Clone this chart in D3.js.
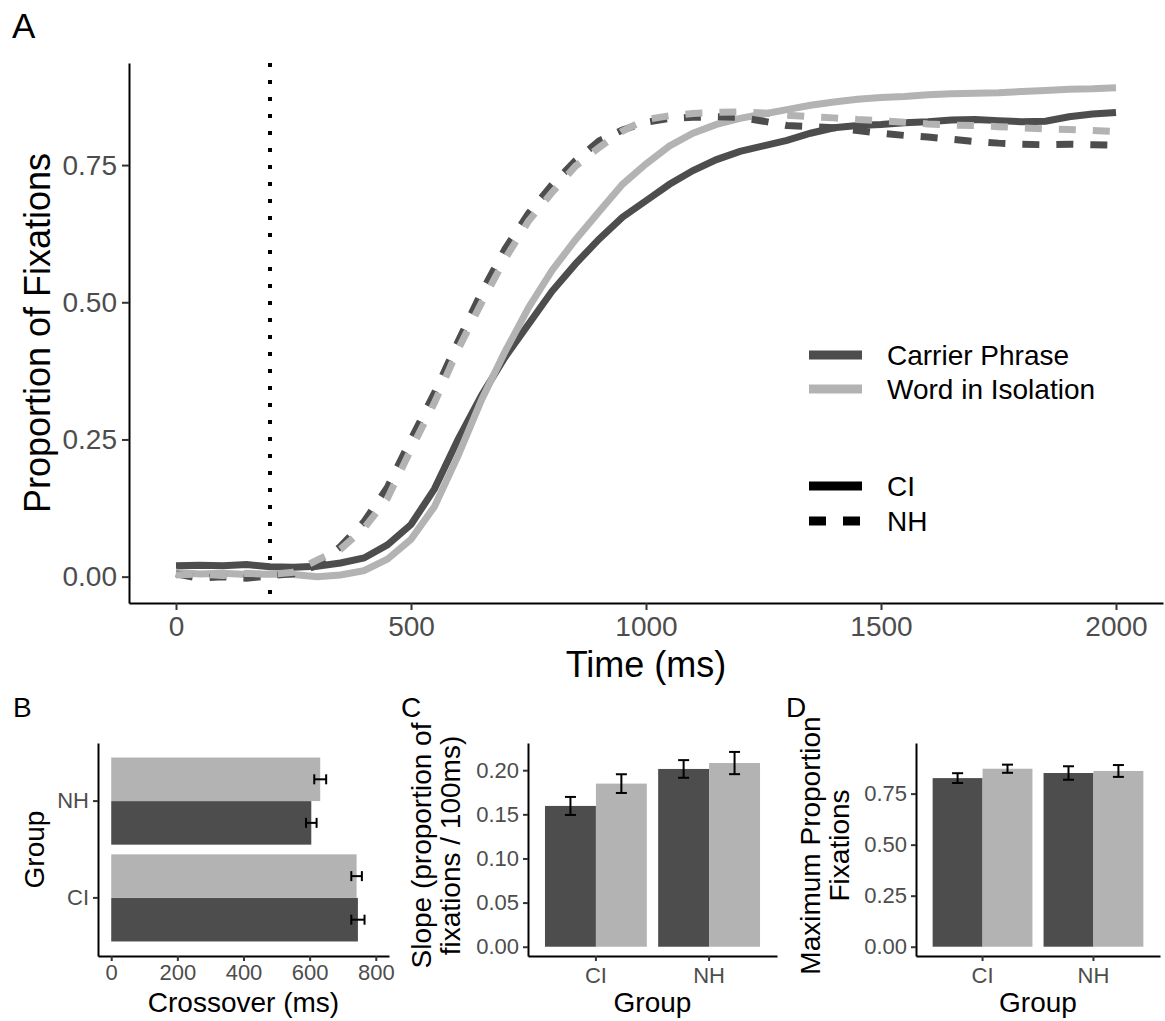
<!DOCTYPE html>
<html>
<head>
<meta charset="utf-8">
<script src="https://cdn.jsdelivr.net/npm/d3@7"></script>
<style>
  body { margin: 0; background: #fff; }
  text { font-family: "Liberation Sans", Arial, sans-serif; }
</style>
</head>
<body>
<svg id="chart"></svg>
<script>
// ---- data ----
const timeMs = [0, 50, 100, 150, 200, 250, 300, 350, 400, 450, 500, 550, 600, 650, 700, 750, 800, 850, 900, 950,
    1000, 1050, 1100, 1150, 1200, 1250, 1300, 1350, 1400, 1450, 1500, 1550, 1600, 1650, 1700, 1750, 1800, 1850, 1900, 1950, 2000];

const ciCarrier = [0.020, 0.021, 0.020, 0.022, 0.018, 0.017, 0.019, 0.025, 0.034, 0.058, 0.095, 0.160, 0.250, 0.330, 0.400, 0.460, 0.520, 0.570, 0.615, 0.655,
    0.685, 0.715, 0.740, 0.760, 0.775, 0.785, 0.795, 0.808, 0.818, 0.822, 0.824, 0.827, 0.829, 0.832, 0.833, 0.831, 0.829, 0.830, 0.838, 0.843, 0.846];
const ciWord = [0.008, 0.005, 0.006, 0.004, 0.005, 0.004, 0.000, 0.003, 0.011, 0.032, 0.068, 0.128, 0.220, 0.322, 0.410, 0.490, 0.558, 0.614, 0.665, 0.715,
    0.752, 0.785, 0.808, 0.824, 0.835, 0.843, 0.851, 0.859, 0.865, 0.870, 0.873, 0.875, 0.878, 0.880, 0.881, 0.882, 0.884, 0.886, 0.888, 0.889, 0.891];
const nhCarrier = [0.005, -0.003, 0.000, -0.003, 0.002, 0.005, 0.020, 0.055, 0.100, 0.163, 0.250, 0.335, 0.428, 0.518, 0.597, 0.662, 0.714, 0.758, 0.794, 0.814,
    0.828, 0.835, 0.837, 0.838, 0.837, 0.830, 0.822, 0.820, 0.818, 0.813, 0.808, 0.804, 0.801, 0.797, 0.793, 0.790, 0.788, 0.787, 0.788, 0.787, 0.786];
const nhWord = [0.003, 0.005, 0.002, 0.006, 0.004, 0.008, 0.030, 0.050, 0.088, 0.143, 0.232, 0.317, 0.414, 0.499, 0.579, 0.648, 0.700, 0.748, 0.782, 0.812,
    0.833, 0.840, 0.844, 0.846, 0.847, 0.845, 0.841, 0.838, 0.836, 0.833, 0.831, 0.828, 0.825, 0.823, 0.822, 0.820, 0.818, 0.816, 0.815, 0.813, 0.811];

const onsetMs = 200;

const groups = ["CI", "NH"];
const conditions = ["Carrier Phrase", "Word in Isolation"];

// per group: [carrier, word]
const crossoverMean = { CI: [746, 742], NH: [605, 632] };
const crossoverErr = { CI: [20, 16], NH: [16, 18] };
const slopeMean = { CI: [0.1595, 0.1848], NH: [0.2014, 0.2081] };
const slopeErr = { CI: [0.0102, 0.0106], NH: [0.0100, 0.0126] };
const maxMean = { CI: [0.826, 0.872], NH: [0.851, 0.861] };
const maxErr = { CI: [0.024, 0.020], NH: [0.033, 0.029] };

const timeTicks = [0, 500, 1000, 1500, 2000];
const propTicks = [0, 0.25, 0.5, 0.75];
const crossTicks = [0, 200, 400, 600, 800];
const slopeTicks = [0, 0.05, 0.10, 0.15, 0.20];

const DARK = "#4d4d4d";
const LIGHT = "#b3b3b3";
const condColor = { "Carrier Phrase": DARK, "Word in Isolation": LIGHT };

const width = 1165;
const height = 1021;

const svg = d3.select("#chart").attr("width", width).attr("height", height);

function panelLabel(txt, x, y, size) {
    svg.append("text").attr("x", x).attr("y", y).text(txt)
        .attr("font-size", size).attr("fill", "#000");
}

function styleAxis(ax, fontSize) {
    ax.select(".domain").attr("stroke", "#000").attr("stroke-width", 2);
    ax.selectAll(".tick line").attr("stroke", "#333").attr("stroke-width", 2);
    ax.selectAll(".tick text").attr("fill", "#4d4d4d").attr("font-size", fontSize)
        .attr("font-family", "Liberation Sans, Arial, sans-serif");
}

// ================= Panel A =================
const aLeft = 129, aRight = 1163, aTop = 63, aBottom = 603;
const xA = d3.scaleLinear().domain([-100, 2100]).range([aLeft, aRight]);
const yA = d3.scaleLinear().domain([-0.048, 0.936]).range([aBottom, aTop]);

const gA = svg.append("g");

// onset dotted line
gA.append("line")
    .attr("x1", xA(onsetMs)).attr("x2", xA(onsetMs))
    .attr("y1", aTop).attr("y2", aBottom)
    .attr("stroke", "#000").attr("stroke-width", 4)
    .attr("stroke-dasharray", "4,13");

const series = [
    { values: ciCarrier, color: DARK, dash: null },
    { values: ciWord, color: LIGHT, dash: null },
    { values: nhCarrier, color: DARK, dash: "17,17" },
    { values: nhWord, color: LIGHT, dash: "17,17" }
];

const line = d3.line()
    .x(function (d, i) { return xA(timeMs[i]); })
    .y(function (d) { return yA(d); });

gA.selectAll("path.curve")
    .data(series)
    .enter()
    .append("path")
    .attr("class", "curve")
    .attr("fill", "none")
    .attr("stroke", function (d) { return d.color; })
    .attr("stroke-width", 7)
    .attr("stroke-dasharray", function (d) { return d.dash; })
    .attr("d", function (d) { return line(d.values); });

// axes A
const axAx = gA.append("g").attr("transform", "translate(0," + aBottom + ")")
    .call(d3.axisBottom(xA).tickValues(timeTicks).tickFormat(d3.format("d"))
        .tickSize(7).tickSizeOuter(0).tickPadding(6));
const axAy = gA.append("g").attr("transform", "translate(" + aLeft + ",0)")
    .call(d3.axisLeft(yA).tickValues(propTicks).tickFormat(d3.format(".2f"))
        .tickSize(7).tickSizeOuter(0).tickPadding(5));
styleAxis(axAx, 28);
styleAxis(axAy, 28);

gA.append("text")
    .attr("x", (aLeft + aRight) / 2).attr("y", 677)
    .attr("text-anchor", "middle").attr("font-size", 36).text("Time (ms)");
gA.append("text")
    .attr("transform", "translate(50," + (aTop + aBottom) / 2 + ") rotate(-90)")
    .attr("text-anchor", "middle").attr("font-size", 36).text("Proportion of Fixations");

// legends
const legX1 = 809, legX2 = 862, legTextX = 887;
const legend = gA.append("g");
conditions.forEach(function (c, i) {
    const y = 355 + i * 34;
    legend.append("line").attr("x1", legX1).attr("x2", legX2).attr("y1", y).attr("y2", y)
        .attr("stroke", condColor[c]).attr("stroke-width", 9);
    legend.append("text").attr("x", legTextX).attr("y", y).attr("dy", "0.35em")
        .attr("font-size", 28).text(c);
});
groups.forEach(function (g, i) {
    const y = 486 + i * 35;
    legend.append("line").attr("x1", legX1).attr("x2", legX2).attr("y1", y).attr("y2", y)
        .attr("stroke", "#000").attr("stroke-width", 9)
        .attr("stroke-dasharray", g === "NH" ? "17,17" : null);
    legend.append("text").attr("x", legTextX).attr("y", y).attr("dy", "0.35em")
        .attr("font-size", 28).text(g);
});

panelLabel("A", 12, 38, 35);

// ================= Panel B (horizontal bars) =================
const bLeft = 98, bRight = 389, bTop = 743, bBottom = 956;
const xB = d3.scaleLinear().domain([-40, 840]).range([bLeft, bRight]);
const yB = d3.scaleBand().domain(groups).range([bBottom, bTop]).paddingInner(0.1).paddingOuter(0.15);
const yBsub = d3.scaleBand().domain(conditions).range([yB.bandwidth(), 0]);

const gB = svg.append("g");
groups.forEach(function (g) {
    conditions.forEach(function (c, j) {
        const y0 = yB(g) + yBsub(c);
        const yc = y0 + yBsub.bandwidth() / 2;
        gB.append("rect")
            .attr("x", xB(0)).attr("y", y0)
            .attr("width", xB(crossoverMean[g][j]) - xB(0))
            .attr("height", yBsub.bandwidth())
            .attr("fill", condColor[c]);
        const lo = xB(crossoverMean[g][j] - crossoverErr[g][j]);
        const hi = xB(crossoverMean[g][j] + crossoverErr[g][j]);
        gB.append("line").attr("x1", lo).attr("x2", hi).attr("y1", yc).attr("y2", yc)
            .attr("stroke", "#000").attr("stroke-width", 2);
        [lo, hi].forEach(function (x) {
            gB.append("line").attr("x1", x).attr("x2", x).attr("y1", yc - 5).attr("y2", yc + 5)
                .attr("stroke", "#000").attr("stroke-width", 2);
        });
    });
});

const axBx = gB.append("g").attr("transform", "translate(0," + bBottom + ")")
    .call(d3.axisBottom(xB).tickValues(crossTicks).tickSize(5).tickSizeOuter(0).tickPadding(3));
const axBy = gB.append("g").attr("transform", "translate(" + bLeft + ",0)")
    .call(d3.axisLeft(yB).tickSize(5).tickSizeOuter(0).tickPadding(4));
styleAxis(axBx, 22);
styleAxis(axBy, 22);

gB.append("text").attr("x", (bLeft + bRight) / 2).attr("y", 1012)
    .attr("text-anchor", "middle").attr("font-size", 28).text("Crossover (ms)");
gB.append("text")
    .attr("transform", "translate(44," + (bTop + bBottom) / 2 + ") rotate(-90)")
    .attr("text-anchor", "middle").attr("font-size", 28).text("Group");

panelLabel("B", 13, 717, 28);

// ================= Panels C and D (vertical bars) =================
function barPanel(opts) {
    const g = svg.append("g");
    const xS = d3.scaleBand().domain(groups).range([opts.left, opts.right]).paddingInner(0.1).paddingOuter(0.15);
    const xSub = d3.scaleBand().domain(conditions).range([0, xS.bandwidth()]);
    const yS = d3.scaleLinear().domain(opts.yDomain).range([opts.bottom, opts.top]);

    groups.forEach(function (grp) {
        conditions.forEach(function (c, j) {
            const x0 = xS(grp) + xSub(c);
            const xc = x0 + xSub.bandwidth() / 2;
            const m = opts.mean[grp][j];
            const e = opts.err[grp][j];
            g.append("rect")
                .attr("x", x0).attr("y", yS(m))
                .attr("width", xSub.bandwidth())
                .attr("height", yS(0) - yS(m))
                .attr("fill", condColor[c]);
            g.append("line").attr("x1", xc).attr("x2", xc).attr("y1", yS(m - e)).attr("y2", yS(m + e))
                .attr("stroke", "#000").attr("stroke-width", 2);
            [m - e, m + e].forEach(function (v) {
                g.append("line").attr("x1", xc - 5.5).attr("x2", xc + 5.5).attr("y1", yS(v)).attr("y2", yS(v))
                    .attr("stroke", "#000").attr("stroke-width", 2);
            });
        });
    });

    const axX = g.append("g").attr("transform", "translate(0," + opts.bottom + ")")
        .call(d3.axisBottom(xS).tickSize(5).tickSizeOuter(0).tickPadding(6));
    const axY = g.append("g").attr("transform", "translate(" + opts.left + ",0)")
        .call(d3.axisLeft(yS).tickValues(opts.ticks).tickFormat(d3.format(".2f"))
            .tickSize(5).tickSizeOuter(0).tickPadding(4));
    styleAxis(axX, 22);
    styleAxis(axY, 22);

    g.append("text").attr("x", (opts.left + opts.right) / 2).attr("y", 1012)
        .attr("text-anchor", "middle").attr("font-size", 28).text("Group");

    const midY = (opts.top + opts.bottom) / 2 - 4;
    opts.title.forEach(function (t, i) {
        g.append("text")
            .attr("transform", "translate(" + (opts.titleX + i * 29) + "," + midY + ") rotate(-90)")
            .attr("text-anchor", "middle").attr("font-size", 28).text(t);
    });
}

barPanel({
    left: 528, right: 777, top: 743, bottom: 956,
    yDomain: [-0.0105, 0.2308], ticks: slopeTicks,
    mean: slopeMean, err: slopeErr,
    title: ["Slope (proportion of", "fixations / 100ms)"], titleX: 431
});
panelLabel("C", 401, 717, 28);

barPanel({
    left: 916, right: 1160, top: 743, bottom: 956,
    yDomain: [-0.0455, 0.998], ticks: propTicks,
    mean: maxMean, err: maxErr,
    title: ["Maximum Proportion", "Fixations"], titleX: 820
});
panelLabel("D", 786, 717, 28);
</script>
</body>
</html>
